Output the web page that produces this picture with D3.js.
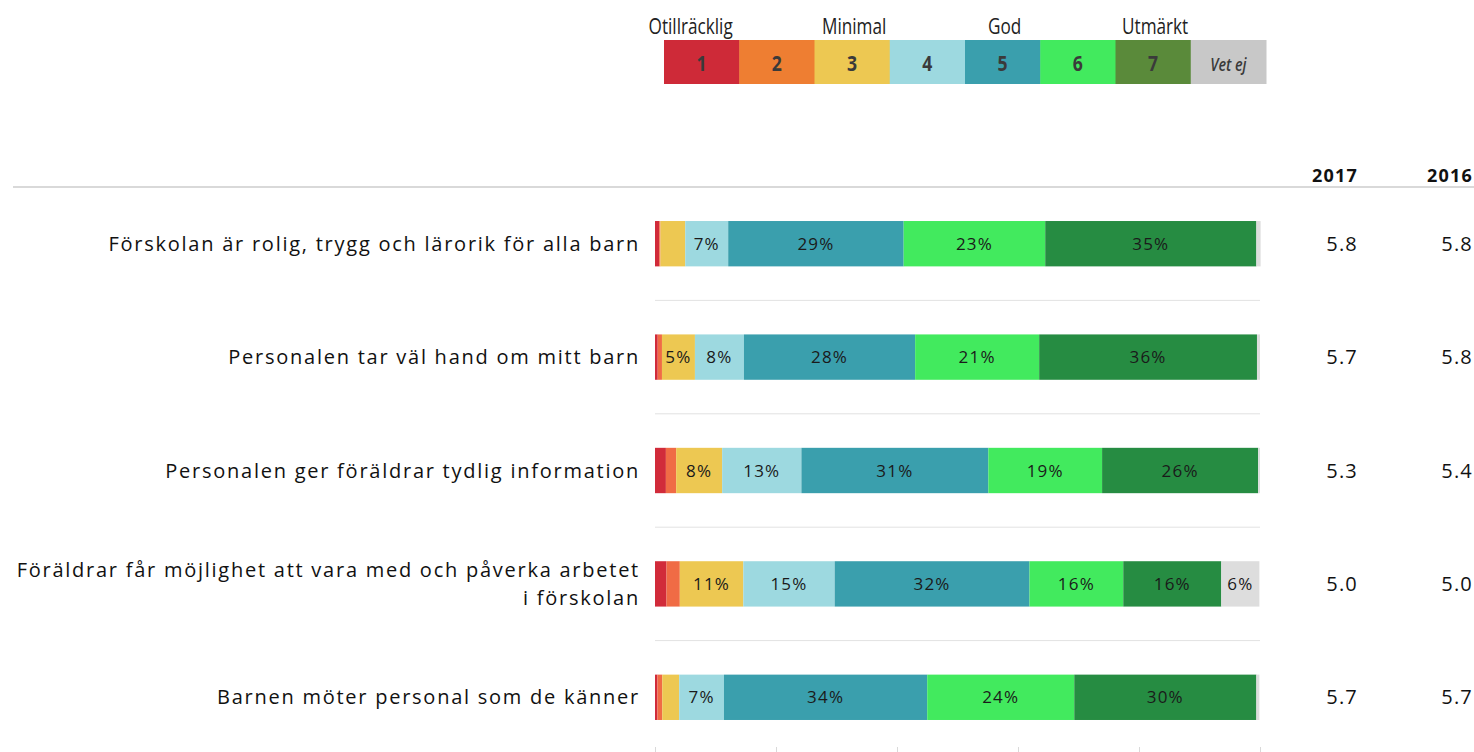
<!DOCTYPE html>
<html>
<head>
<meta charset="utf-8">
<script src="https://cdn.jsdelivr.net/npm/d3@7"></script>
<style>
body{margin:0;background:#fff;}
svg text{font-family:"Open Sans",sans-serif;}
</style>
</head>
<body>
<div class="chart"></div>
<script>
var width=1474,
    height=752;

// data
var categories=[
  "Förskolan är rolig, trygg och lärorik för alla barn",
  "Personalen tar väl hand om mitt barn",
  "Personalen ger föräldrar tydlig information",
  "Föräldrar får möjlighet att vara med och påverka arbetet|i förskolan",
  "Barnen möter personal som de känner"
];
var levels=["1","2","3","4","5","6","7","Vet ej"];
var legendLabels=[["Otillräcklig",0],["Minimal",2],["God",4],["Utmärkt",6]];
var s1=[0.7,0.45,1.8,1.9,0.4];
var s2=[0.2,0.7,1.7,2.2,0.8];
var s3=[4.1,5.45,7.6,10.5,2.8];
var s4=[7.1,8.1,13.1,15.1,7.4];
var s5=[29,28.3,30.9,32.2,33.6];
var s6=[23.4,20.5,18.8,15.5,24.3];
var s7=[34.9,36,25.8,16.2,30.1];
var sVetEj=[0.7,0.5,0.3,6.3,0.5];
var years=["2017","2016"];
var avg2017=["5.8","5.7","5.3","5.0","5.7"];
var avg2016=["5.8","5.8","5.4","5.0","5.7"];
var ticks=[0,20,40,60,80,100];

var barColors=["#d12b3a","#f06b45","#edc852","#9dd9e0","#3a9fad","#42ea5e","#268c42","#dddddd"];
var legendColors=["#ce2a38","#ee7e32","#edc852","#9dd9e0","#3a9fad","#42ea5e","#5a8a3a","#c8c8c8"];

var series=[s1,s2,s3,s4,s5,s6,s7,sVetEj];
var rows=categories.map(function(c,i){
  var r={cat:c};
  levels.forEach(function(l,j){ r[l]=series[j][i]; });
  return r;
});

var svg=d3.select('.chart')
  .append('svg')
    .attr('width',width)
    .attr('height',height);

var x=d3.scaleLinear().domain([0,100]).range([655,1260]);
var y=d3.scaleBand().domain(d3.range(categories.length)).range([187,754]).paddingInner(0.6).paddingOuter(0.3);

// legend
var lx=d3.scaleBand().domain(levels).range([664,1266]);
var legend=svg.append('g');
legend.selectAll('rect')
  .data(levels)
  .enter()
  .append('rect')
    .attr('x',d=>lx(d))
    .attr('y',40)
    .attr('width',lx.bandwidth()+0.5)
    .attr('height',44)
    .attr('fill',(d,i)=>legendColors[i]);
legend.selectAll('text.num')
  .data(levels)
  .enter()
  .append('text')
    .attr('class','num')
    .attr('transform',d=>`translate(${lx(d)+lx.bandwidth()/2},71) scale(0.8,1)`)
    .attr('text-anchor','middle')
    .style('font-weight',d=>d==="Vet ej"?'600':'bold')
    .style('font-style',d=>d==="Vet ej"?'italic':'normal')
    .style('font-size',d=>d==="Vet ej"?'18px':'22px')
    .attr('fill','#3a3a3a')
    .text(d=>d);
legend.selectAll('text.lab')
  .data(legendLabels)
  .enter()
  .append('text')
    .attr('class','lab')
    .attr('transform',d=>`translate(${lx(levels[d[1]])+lx.bandwidth()/2+(d[1]===0?-11:2)},34) scale(0.78,1)`)
    .attr('text-anchor','middle')
    .style('font-size','22px')
    .attr('fill','#222')
    .text(d=>d[0]);

// header
svg.append('line')
  .attr('x1',13).attr('x2',1474)
  .attr('y1',187).attr('y2',187)
  .attr('stroke','#d9d9d9').attr('stroke-width',2);
svg.selectAll('text.year')
  .data(years)
  .enter()
  .append('text')
    .attr('class','year')
    .attr('x',(d,i)=>i===0?1358:1473)
    .attr('y',182)
    .attr('text-anchor','end')
    .style('font-size','18px')
    .style('font-weight','bold')
    .style('letter-spacing','1.2px')
    .attr('fill','#111')
    .text(d=>d);

// separators
svg.selectAll('line.sep')
  .data(d3.range(categories.length-1))
  .enter()
  .append('line')
    .attr('class','sep')
    .attr('x1',x(0)).attr('x2',x(100))
    .attr('y1',d=>(y(d)+y.bandwidth()+y(d+1))/2)
    .attr('y2',d=>(y(d)+y.bandwidth()+y(d+1))/2)
    .attr('stroke','#e2e2e2');

// bars
var stack=d3.stack().keys(levels)(rows);
var layer=svg.append('g').selectAll('g')
  .data(stack)
  .enter()
  .append('g')
    .attr('fill',(d,i)=>barColors[i]);
layer.selectAll('rect')
  .data(d=>d)
  .enter()
  .append('rect')
    .attr('x',d=>x(d[0]))
    .attr('y',(d,i)=>y(i))
    .attr('width',d=>x(d[1])-x(d[0]))
    .attr('height',y.bandwidth());
layer.selectAll('text')
  .data(d=>d.filter(p=>Math.round(p[1]-p[0])>=5).map(p=>({p:p,i:d.indexOf(p)})))
  .enter()
  .append('text')
    .attr('x',d=>(x(d.p[0])+x(d.p[1]))/2)
    .attr('y',d=>y(d.i)+y.bandwidth()/2+6)
    .attr('text-anchor','middle')
    .style('font-size','17px')
    .style('letter-spacing','1.2px')
    .attr('fill','#1a1a1a')
    .text(d=>Math.round(d.p[1]-d.p[0])+'%');

// category labels
var cl=svg.selectAll('text.cat')
  .data(categories)
  .enter()
  .append('text')
    .attr('class','cat')
    .attr('text-anchor','end')
    .style('font-size','20px')
    .style('letter-spacing','1.75px')
    .attr('fill','#111');
cl.each(function(d,i){
  var parts=d.split('|');
  var t=d3.select(this);
  var c=y(i)+y.bandwidth()/2+7;
  parts.forEach(function(p,k){
    t.append('tspan')
      .attr('x',640)
      .attr('y',c+(k-(parts.length-1)/2)*28)
      .text(p);
  });
});

// averages
[avg2017,avg2016].forEach(function(arr,j){
  svg.selectAll('text.avg'+j)
    .data(arr)
    .enter()
    .append('text')
      .attr('class','avg'+j)
      .attr('x',j===0?1358:1473)
      .attr('y',(d,i)=>y(i)+y.bandwidth()/2+7)
      .attr('text-anchor','end')
      .style('font-size','20px')
      .style('letter-spacing','1.2px')
      .attr('fill','#111')
      .text(d=>d);
});

// bottom axis ticks
svg.append('g')
  .attr('transform','translate(0,747)')
  .call(d3.axisBottom(x).tickValues(ticks).tickSize(6).tickFormat(''))
  .call(g=>g.select('.domain').remove())
  .call(g=>g.selectAll('line').attr('stroke','#d9d9d9'));
</script>
</body>
</html>
